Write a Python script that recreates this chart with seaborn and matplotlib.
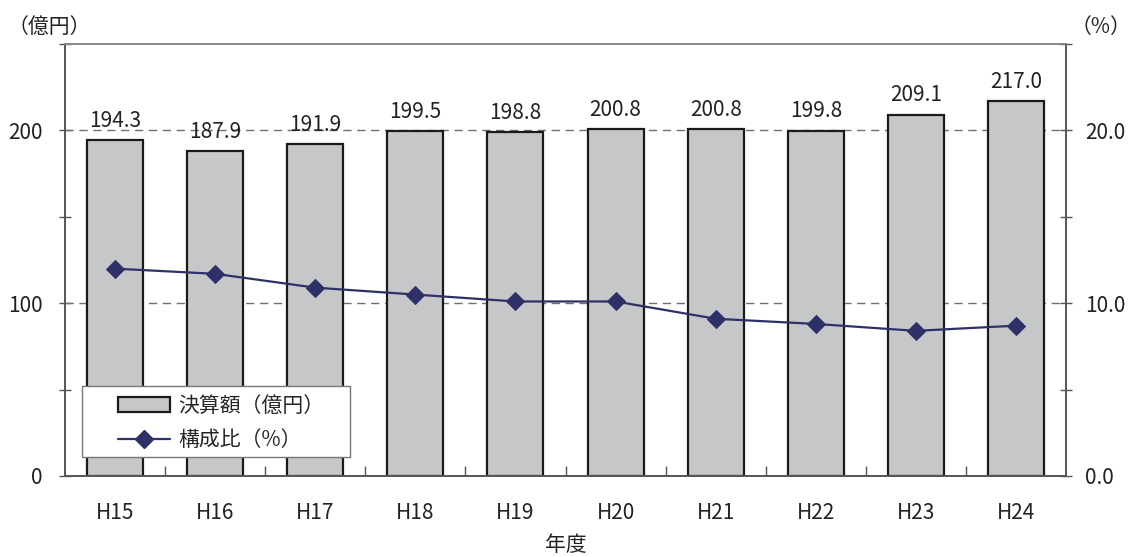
import numpy as np
import pandas as pd
import matplotlib
matplotlib.use('Agg')
import matplotlib.pyplot as plt
import seaborn as sns
from matplotlib.patches import Rectangle, Patch
from matplotlib.lines import Line2D
from matplotlib.ticker import MultipleLocator, FormatStrFormatter, FixedLocator

years = ["H15", "H16", "H17", "H18", "H19", "H20", "H21", "H22", "H23", "H24"]
amounts = [194.3, 187.9, 191.9, 199.5, 198.8, 200.8, 200.8, 199.8, 209.1, 217.0]
ratios = [12.0, 11.7, 10.9, 10.5, 10.1, 10.1, 9.1, 8.8, 8.4, 8.7]
amount_label = "決算額（億円）"
ratio_label = "構成比（%）"
left_unit = "（億円）"
right_unit = "（%）"
x_title = "年度"

BAR = "#C6C7C9"
NAVY = "#2E3068"
EDGE = "#1a1a1a"
SPINE = "#555555"
FS = 15

sns.set_theme(style="white")
plt.rcParams['font.family'] = ['Noto Sans CJK JP', 'DejaVu Sans']

fig = plt.figure(figsize=(11.32, 5.57), dpi=100)
ax = fig.add_axes([65 / 1132, 81 / 557, 1001 / 1132, 432 / 557])

df = pd.DataFrame({"year": years, "amount": amounts})
sns.barplot(data=df, x="year", y="amount", ax=ax, color=BAR, saturation=1,
            edgecolor=EDGE, linewidth=1.6, width=0.56, zorder=2)
ax.bar_label(ax.containers[0], labels=[f"{v:.1f}" for v in amounts],
             padding=6, fontsize=FS, color="#222222")

ax.set_xlim(-0.5, len(years) - 0.5)
ax.set_ylim(0, 250)
ax.yaxis.set_major_locator(MultipleLocator(100))
ax.yaxis.set_minor_locator(MultipleLocator(50))
ax.yaxis.set_major_formatter(FormatStrFormatter('%d'))
ax.grid(False)
for yv in [100, 200]:
    ax.axhline(yv, color="#707070", lw=1, ls=(0, (6, 4)), zorder=1)

ax.set_xlabel(x_title, fontsize=FS, labelpad=7, color="#222222")
ax.set_ylabel("")
ax.xaxis.set_minor_locator(FixedLocator(np.arange(0.5, len(years) - 1, 1.0)))
ax.tick_params(axis='x', which='major', length=0, pad=19, labelsize=FS, colors="#222222")
ax.tick_params(axis='x', which='minor', direction='in', length=7, width=1, color=SPINE, bottom=True)
ax.tick_params(axis='y', which='both', direction='inout', length=8, width=1, color=SPINE,
               left=True, labelsize=FS, labelcolor="#222222", pad=12)

ax2 = ax.twinx()
sns.lineplot(x=np.arange(len(years)), y=ratios, ax=ax2, color=NAVY, marker='D',
             markersize=9, markeredgecolor=NAVY, linewidth=1.6, zorder=5)
ax2.set_ylim(0, 25)
ax2.set_xlim(-0.5, len(years) - 0.5)
ax2.yaxis.set_major_locator(MultipleLocator(10))
ax2.yaxis.set_minor_locator(MultipleLocator(5))
ax2.yaxis.set_major_formatter(FormatStrFormatter('%.1f'))
ax2.tick_params(axis='y', which='both', direction='inout', length=8, width=1, color=SPINE,
                right=True, labelsize=FS, labelcolor="#222222", pad=10)
ax2.set_ylabel("")
ax2.grid(False)

for a in (ax, ax2):
    for s in a.spines.values():
        s.set_color(SPINE)
        s.set_linewidth(1.2)
        s.set_visible(True)
ax.spines['top'].set_color("#888888")
ax2.spines['top'].set_color("#888888")

# legend
frame = Rectangle((17 / 1001, 19 / 432), 268 / 1001, 71 / 432, transform=ax2.transAxes,
                  facecolor="white", edgecolor="#777777", lw=1.0, zorder=10)
ax2.add_patch(frame)
handles = [Patch(facecolor=BAR, edgecolor=EDGE, linewidth=1.6),
           Line2D([], [], color=NAVY, marker='D', markersize=9, lw=1.6)]
leg = ax2.legend(handles, [amount_label, ratio_label], loc='center left',
                 bbox_to_anchor=(53 / 1001, 53 / 432), frameon=False, fontsize=FS,
                 handlelength=2.5, handleheight=0.75, handletextpad=0.4,
                 labelspacing=0.6, borderpad=0, borderaxespad=0)
leg.set_zorder(11)

fig.text(8 / 1132, 1 - 27 / 557, left_unit, fontsize=FS, va='center', ha='left', color="#222222")
fig.text(1131 / 1132, 1 - 27 / 557, right_unit, fontsize=FS, va='center', ha='right', color="#222222")

fig.savefig("out.png", dpi=100)
